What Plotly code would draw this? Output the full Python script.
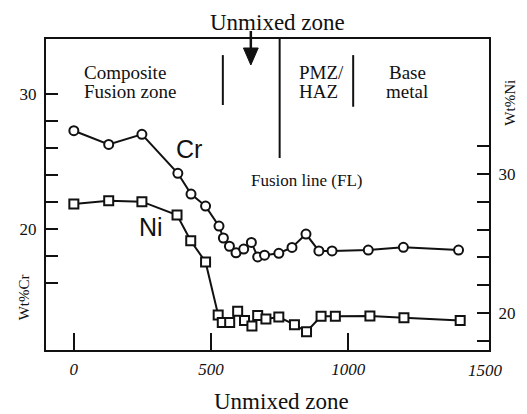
import plotly.graph_objects as go

# Distance (µm) and composition data
dist_cr = [0, 127, 248, 379, 427, 480, 529, 545, 567, 591, 619, 647, 670, 695,
           747, 795, 846, 893, 941, 1073, 1201, 1402]
wt_cr = [27.29, 26.28, 27.02, 24.14, 22.61, 21.72, 20.24, 19.36, 18.75, 18.26,
         18.54, 19.03, 17.96, 18.09, 18.23, 18.66, 19.65, 18.40, 18.40, 18.47,
         18.67, 18.47]
dist_ni = [0, 127, 248, 376, 426, 480, 526, 541, 568, 597, 622, 649, 670, 700,
           747, 804, 848, 901, 953, 1079, 1203, 1408]
wt_ni = [27.84, 28.08, 28.01, 27.05, 25.20, 23.67, 19.86, 19.32, 19.32, 20.12,
         19.47, 19.06, 19.83, 19.57, 19.71, 19.16, 18.65, 19.76, 19.76, 19.78,
         19.66, 19.47]

x_ticks = [0, 500, 1000]
x_last_label = 1500
cr_ticks = [16, 18, 20, 22, 24, 26, 28, 30]
cr_labels = ["", "", "20", "", "", "", "", "30"]
ni_ticks = [18, 20, 22, 24, 26, 28, 30, 32]
ni_labels = ["", "20", "", "", "", "", "30", ""]

SERIF = "Liberation Serif"
BLACK = "#111111"

fig = go.Figure()
fig.add_trace(go.Scatter(
    x=dist_cr, y=wt_cr, mode="lines+markers", name="Cr",
    line=dict(color=BLACK, width=2),
    marker=dict(symbol="circle", size=9, color="white",
                line=dict(color=BLACK, width=2)),
    yaxis="y", showlegend=False))
fig.add_trace(go.Scatter(
    x=dist_ni, y=wt_ni, mode="lines+markers", name="Ni",
    line=dict(color=BLACK, width=2),
    marker=dict(symbol="square", size=9, color="white",
                line=dict(color=BLACK, width=2)),
    yaxis="y2", showlegend=False))

# page has an 8px body margin: the figure itself starts at (8, 8)
OFF = 8
W, H = 527 - OFF, 414 - OFF
# plot area in page pixels
PL, PR, PT, PB = 42, 492, 39, 350
pw, ph = PR - PL, PB - PT
ml, mt = PL - OFF, PT - OFF
mr, mb = W - ml - pw, H - mt - ph


def px(xp):
    return (xp - PL) / pw


def py(yp):
    return (PB - yp) / ph


fig.update_layout(
    width=W, height=H,
    margin=dict(l=ml, r=mr, t=mt, b=mb),
    paper_bgcolor="white", plot_bgcolor="white",
    xaxis=dict(range=[-101.5, 1513], tickvals=x_ticks,
               ticktext=[str(v) for v in x_ticks],
               ticks="inside", ticklen=17, tickwidth=2, tickcolor=BLACK,
               showline=True, linewidth=2, linecolor=BLACK, mirror=True,
               showgrid=False, zeroline=False,
               tickfont=dict(family=SERIF, size=17, color=BLACK, style="italic"),
               ticklabelstandoff=3),
    yaxis=dict(range=[11.08, 34.07], tickvals=cr_ticks, ticktext=cr_labels,
               ticks="inside", ticklen=12, tickwidth=2, tickcolor=BLACK,
               showline=True, linewidth=2, linecolor=BLACK,
               showgrid=False, zeroline=False,
               tickfont=dict(family=SERIF, size=17, color=BLACK),
               ticklabelstandoff=4),
    yaxis2=dict(range=[17.34, 39.71], tickvals=ni_ticks, ticktext=ni_labels,
                overlaying="y", side="right",
                ticks="inside", ticklen=12, tickwidth=2, tickcolor=BLACK,
                showline=True, linewidth=2, linecolor=BLACK,
                showgrid=False, zeroline=False,
                tickfont=dict(family=SERIF, size=17, color=BLACK),
                ticklabelstandoff=4),
)

# last x tick label (no tick mark at the frame corner)
fig.add_annotation(text=str(x_last_label), xref="x", yref="paper", x=x_last_label,
                   y=py(370), xanchor="center", yanchor="middle", showarrow=False,
                   font=dict(family=SERIF, size=17, color=BLACK, style="italic"))

# zone boundary lines
fig.add_shape(type="line", xref="x", yref="y", x0=543, x1=543, y0=32.88, y1=29.19,
              line=dict(color=BLACK, width=2))
fig.add_shape(type="line", xref="x", yref="paper", x0=750, x1=750, y0=1.0, y1=py(158),
              line=dict(color=BLACK, width=2))
fig.add_shape(type="line", xref="x", yref="y", x0=1018, x1=1018, y0=32.88, y1=29.06,
              line=dict(color=BLACK, width=2))

# arrow pointing to unmixed zone
ax = 645
fig.add_shape(type="line", xref="x", yref="paper", x0=ax, x1=ax, y0=py(31), y1=py(50),
              line=dict(color=BLACK, width=2.5))
hw = 7.5 / (pw / (1513 + 101.5))
fig.add_shape(type="path", xref="x", yref="paper",
              path=f"M {ax - hw},{py(48)} L {ax + hw},{py(48)} L {ax},{py(65)} Z",
              fillcolor=BLACK, line=dict(color=BLACK, width=1))


def label(text, x, y, size, xanchor="center", family=SERIF, angle=0):
    fig.add_annotation(text=text, xref="paper", yref="paper", x=px(x), y=py(y),
                       xanchor=xanchor, yanchor="middle", showarrow=False,
                       textangle=angle,
                       font=dict(family=family, size=size, color=BLACK))


label("Unmixed zone", 277, 22, 23)
label("Unmixed zone", 281, 401, 23)
label("Composite", 79, 72, 19, xanchor="left")
label("Fusion zone", 79, 92, 19, xanchor="left")
label("PMZ/", 297, 72, 19, xanchor="left")
label("HAZ", 297, 92, 19, xanchor="left")
label("Base", 409, 72, 19)
label("metal", 409, 92, 19)
label("Fusion line (FL)", 307, 180, 17)
label("Cr", 187, 149, 25, family="Liberation Sans")
label("Ni", 149, 227, 25, family="Liberation Sans")
label("Wt%Cr", 20, 297, 15, angle=-90)
label("Wt%Ni", 513, 103, 15, angle=-90)

fig.write_html("out.html")
